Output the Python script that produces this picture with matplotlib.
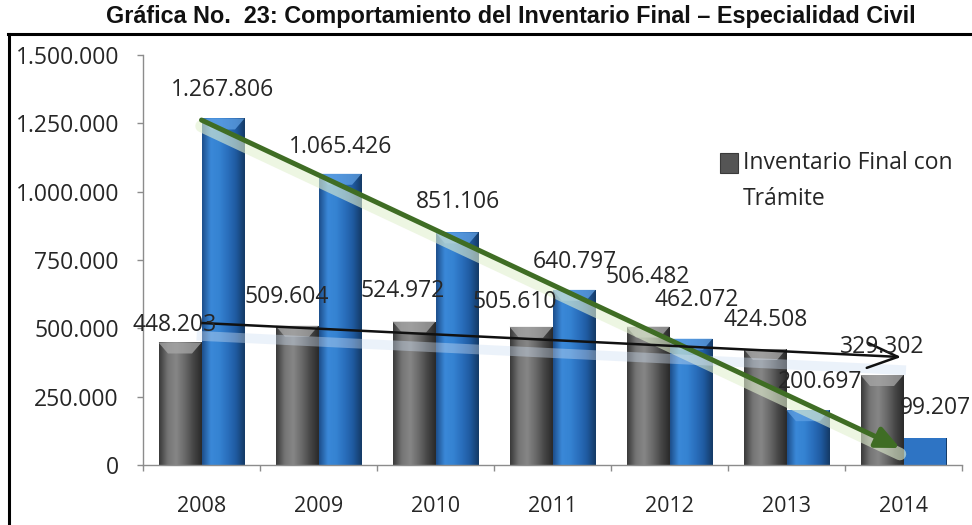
import matplotlib
matplotlib.use("Agg")
import matplotlib.pyplot as plt
import numpy as np
from matplotlib.colors import LinearSegmentedColormap
from matplotlib.patches import Rectangle, Polygon
from matplotlib.lines import Line2D

# ---- data ----
years = ["2008", "2009", "2010", "2011", "2012", "2013", "2014"]
inv_con_tramite = [448203, 509604, 524972, 505610, 506482, 424508, 329302]
inv_blue = [1267806, 1065426, 851106, 640797, 462072, 200697, 99207]
legend_lines = ["Inventario Final con", "Trámite"]
title = "Gráfica No.  23: Comportamiento del Inventario Final – Especialidad Civil"
yticks = [0, 250000, 500000, 750000, 1000000, 1250000, 1500000]
# trend arrows (start at 2008, end at 2014)
trend_gray = [519500, 395000]
trend_blue = [1262000, 62000]

# label offsets (pixels) relative to bar top centre -- styling only
gray_off = [(-5, 17), (-10, 29), (-11, 31), (-16, 25), (0, 50), (1, 29), (0, 28)]
blue_off = [(0, 28), (1, 27), (1, 30), (1, 28), (6, 39), (12, 28), (10, 30)]

def fmt(v):
    return f"{v:,.0f}".replace(",", ".")

W, H = 972, 525
fig = plt.figure(figsize=(W / 100, H / 100), dpi=100)
ax = fig.add_axes([143 / W, 1 - 465 / H, (962 - 143) / W, (465 - 55) / H])

FONT = "Open Sans"
TXT = "#262626"
x = np.arange(len(years))
bw = 0.3675
gray_bars = ax.bar(x - bw / 2, inv_con_tramite, bw, color="#646464", zorder=2)
blue_bars = ax.bar(x + bw / 2, inv_blue, bw, color="#2e74c4", zorder=2)

gray_cmap = LinearSegmentedColormap.from_list("g", ["#3a3a3a", "#757575", "#868686", "#6a6a6a", "#474747", "#2a2a2a"])
blue_cmap = LinearSegmentedColormap.from_list("b", ["#1d4f8c", "#3a88d8", "#3583d2", "#2a6fbd", "#1f5aa0", "#143a66"])
grad = np.linspace(0, 1, 64).reshape(1, -1)
px_per_val = (465 - 55) / 1500000.0
bevel_h = 11 / px_per_val
for bars, cmap, top_col in ((gray_bars, gray_cmap, "#a8a8a8"), (blue_bars, blue_cmap, "#5fa0e3")):
    for i, r in enumerate(bars):
        x0, w, h = r.get_x(), r.get_width(), r.get_height()
        im = ax.imshow(grad, extent=[x0, x0 + w, 0, h], aspect="auto", cmap=cmap, zorder=2.1,
                       interpolation="bicubic")
        im.set_clip_path(r)
        if not (bars is blue_bars and i == len(bars) - 1):
            bh = min(bevel_h, h * 0.4)
            poly = Polygon([[x0, h], [x0 + w, h], [x0 + w * 0.78, h - bh], [x0 + w * 0.22, h - bh]],
                           closed=True, facecolor=top_col, edgecolor="none", alpha=0.75, zorder=2.2)
            ax.add_patch(poly)
        else:
            r.set_zorder(2.3)

ax.set_xlim(-0.5, len(years) - 0.5)
ax.set_ylim(0, 1500000)
ax.set_aspect("auto")

# data labels
for i, (v, off) in enumerate(zip(inv_con_tramite, gray_off)):
    ax.annotate(fmt(v), (x[i] - bw / 2, v), xytext=off, textcoords="offset pixels",
                ha="center", va="center", fontsize=16.5, family=FONT, color=TXT, zorder=5)
for i, (v, off) in enumerate(zip(inv_blue, blue_off)):
    ax.annotate(fmt(v), (x[i] + bw / 2, v), xytext=off, textcoords="offset pixels",
                ha="center", va="center", fontsize=16.5, family=FONT, color=TXT, zorder=5)

# trend arrows
gx = [x[0], x[-1] - 0.03]
glow_shift = -6 / px_per_val
ax.plot(gx, [trend_blue[0] + glow_shift, trend_blue[1] + glow_shift], color="#e2f0d0", lw=9,
        alpha=0.6, solid_capstyle="round", zorder=3)
ax.annotate("", xy=(gx[1], trend_blue[1]), xytext=(gx[0], trend_blue[0]),
            arrowprops=dict(arrowstyle="-|>,head_length=0.7,head_width=0.32", color="#3f6d24",
                            lw=3.6, shrinkA=0, shrinkB=0, mutation_scale=20), zorder=4)
bxs = [x[0], x[-1] - 0.02]
bshift = -13 / px_per_val
ax.plot(bxs, [trend_gray[0] + bshift, trend_gray[1] + bshift], color="#cfdff3", lw=7,
        alpha=0.4, zorder=3)
ax.annotate("", xy=(bxs[1], trend_gray[1]), xytext=(bxs[0], trend_gray[0]),
            arrowprops=dict(arrowstyle="->,head_length=1.1,head_width=0.45", color="#111111",
                            lw=1.8, shrinkA=0, shrinkB=0, mutation_scale=20), zorder=4)

# axes styling
for s in ("top", "right"):
    ax.spines[s].set_visible(False)
for s in ("left", "bottom"):
    ax.spines[s].set_color("#8c8c8c")
    ax.spines[s].set_linewidth(1.0)
ax.set_yticks(yticks)
ax.set_yticklabels([fmt(v) for v in yticks], fontsize=16.5, family=FONT, color=TXT)
ax.tick_params(axis="y", direction="out", length=4.3, width=1, color="#8c8c8c", pad=13)
ax.set_xticks(x)
ax.set_xticklabels(years, fontsize=15.5, family=FONT, color=TXT)
ax.tick_params(axis="x", which="major", length=0, pad=22)
ax.set_xticks(np.arange(-0.5, len(years), 1.0), minor=True)
ax.tick_params(axis="x", which="minor", direction="out", length=4.3, width=1, color="#8c8c8c")

# legend (single entry for the gray series)
fig.add_artist(Rectangle((720 / W, 1 - 173 / H), 18 / W, 20 / H, transform=fig.transFigure,
                         facecolor="#555555", edgecolor="#3a3a3a", lw=0.8))
fig.text(743 / W, 1 - 163 / H, legend_lines[0], ha="left", va="center", fontsize=16.5,
         family=FONT, color=TXT)
fig.text(743 / W, 1 - 199 / H, legend_lines[1], ha="left", va="center", fontsize=16.5,
         family=FONT, color=TXT)

# title and frame
fig.text(511 / W, 1 - 17 / H, title, ha="center", va="center", fontsize=16.8,
         family="Liberation Sans", weight="bold", color="#111111")
fig.add_artist(Line2D([8.5 / W, 8.5 / W], [0, 1 - 34 / H], transform=fig.transFigure, color="black", lw=2.2))
fig.add_artist(Line2D([7.5 / W, 1], [1 - 34 / H, 1 - 34 / H], transform=fig.transFigure, color="black", lw=2.2))

fig.savefig("out.png", dpi=100)
